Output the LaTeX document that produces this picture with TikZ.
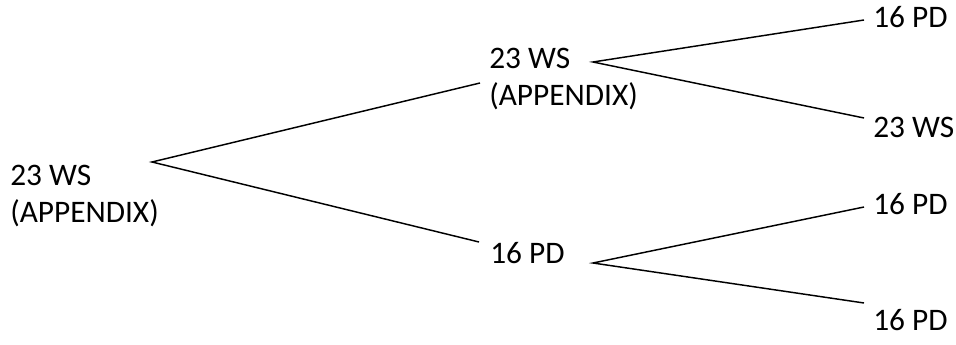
\documentclass[tikz,border=0pt]{standalone}
\usepackage{fontspec}
\setmainfont{Carlito}
\begin{document}
\begin{tikzpicture}[x=0.75pt,y=-0.75pt,
  label/.style={anchor=base west,inner sep=0pt,align=left,font=\fontsize{23.5}{28}\selectfont},
  branch/.style={black,line width=1.1pt}]
\useasboundingbox (0,0) rectangle (956,345);
\node[label] (root) at (10,223) {23 WS\\(APPENDIX)};
\node[label] (ws) at (489,106) {23 WS\\(APPENDIX)};
\node[label] (pd) at (490,263) {16 PD};
\node[label] (wspd) at (873,28) {16 PD};
\node[label] (wsws) at (873,138) {23 WS};
\node[label] (pdpd) at (873,215) {16 PD};
\node[label] (pdpd2) at (873,330) {16 PD};
\coordinate (root-out) at (152,162);
\coordinate (ws-in) at (480,83);
\coordinate (pd-in) at (479,242);
\coordinate (ws-out) at (593,62);
\coordinate (pd-out) at (593,263);
\coordinate (wspd-in) at (864,20);
\coordinate (wsws-in) at (864,118);
\coordinate (pdpd-in) at (864,207);
\coordinate (pdpd2-in) at (864,303);
\draw[branch] (ws-in) -- (root-out) -- (pd-in);
\draw[branch] (wspd-in) -- (ws-out) -- (wsws-in);
\draw[branch] (pdpd-in) -- (pd-out) -- (pdpd2-in);
\end{tikzpicture}
\end{document}
